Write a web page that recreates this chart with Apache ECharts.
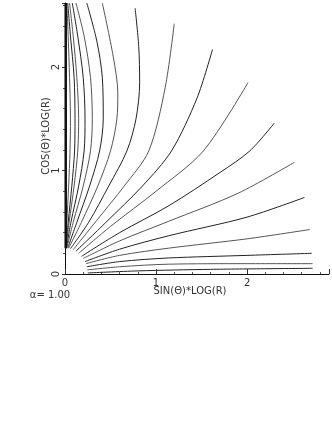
<!DOCTYPE html>
<html>
<head>
<meta charset="utf-8">
<script src="https://cdn.jsdelivr.net/npm/echarts@6/dist/echarts.min.js"></script>
<style>
  html, body { margin: 0; padding: 0; background: #fff; }
  #chart { width: 332px; height: 430px; }
</style>
</head>
<body>
<div id="chart"></div>
<script>
// streamlines as [sin*log, cos*log] points
var c01 = [[0.25, 0.01], [0.8, 0.03], [1.6, 0.045], [2.72, 0.055]];
var c02 = [[0.245, 0.04], [0.6, 0.07], [1.14, 0.095], [2.0, 0.1], [2.72, 0.10]];
var c03 = [[0.24, 0.07], [0.6, 0.12], [1.14, 0.155], [2.0, 0.18], [2.71, 0.20]];
var c04 = [[0.23, 0.10], [0.6, 0.18], [1.14, 0.25], [2.0, 0.34], [2.69, 0.43]];
var c05 = [[0.22, 0.12], [0.6, 0.24], [1.14, 0.37], [2.0, 0.55], [2.63, 0.74]];
var c06 = [[0.20, 0.15], [0.6, 0.32], [1.14, 0.51], [1.9, 0.78], [2.52, 1.08]];
var c07 = [[0.18, 0.17], [0.6, 0.40], [1.14, 0.66], [1.7, 0.98], [2.03, 1.19], [2.30, 1.46]];
var c08 = [[0.15, 0.20], [0.5, 0.46], [1.0, 0.80], [1.52, 1.19], [2.01, 1.85]];
var c09 = [[0.12, 0.22], [0.45, 0.50], [0.85, 0.85], [1.17, 1.19], [1.45, 1.7], [1.62, 2.17]];
var c10 = [[0.09, 0.235], [0.35, 0.52], [0.65, 0.85], [0.92, 1.19], [1.1, 1.8], [1.2, 2.42]];
var c11 = [[0.06, 0.245], [0.26, 0.5], [0.48, 0.85], [0.68, 1.19], [0.78, 1.5], [0.82, 1.85], [0.81, 2.2], [0.77, 2.57]];
var c12 = [[0.04, 0.25], [0.18, 0.5], [0.36, 0.85], [0.50, 1.19], [0.57, 1.5], [0.58, 1.75], [0.53, 2.1], [0.41, 2.62]];
var c13 = [[0.03, 0.25], [0.13, 0.5], [0.27, 0.85], [0.38, 1.19], [0.42, 1.5], [0.41, 1.9], [0.35, 2.25], [0.24, 2.62]];
var c14 = [[0.02, 0.25], [0.09, 0.5], [0.2, 0.85], [0.28, 1.19], [0.3, 1.5], [0.28, 1.9], [0.21, 2.3], [0.12, 2.62]];
var c15 = [[0.015, 0.25], [0.065, 0.5], [0.15, 0.85], [0.21, 1.19], [0.22, 1.5], [0.2, 1.9], [0.14, 2.3], [0.08, 2.62]];
var c16 = [[0.01, 0.25], [0.045, 0.5], [0.1, 0.85], [0.14, 1.19], [0.15, 1.5], [0.13, 1.9], [0.09, 2.3], [0.05, 2.62]];
var c17 = [[0.008, 0.25], [0.035, 0.5], [0.075, 0.85], [0.105, 1.19], [0.11, 1.5], [0.1, 1.9], [0.06, 2.3], [0.03, 2.62]];
var c18 = [[0.005, 0.25], [0.02, 0.5], [0.04, 0.85], [0.055, 1.19], [0.06, 1.5], [0.05, 1.9], [0.035, 2.3], [0.02, 2.62]];
var bundle = [[0.008, 0.25], [0.008, 2.62]];

var curves = [c01, c02, c03, c04, c05, c06, c07, c08, c09, c10,
              c11, c12, c13, c14, c15, c16, c17, c18];

var xTicks = [0, 1, 2];
var yTicks = [0, 1, 2];

var myChart = echarts.init(document.getElementById('chart'));

var series = curves.map(function (pts, i) {
    return {
        type: 'line',
        data: pts,
        smooth: 0.3,
        showSymbol: false,
        silent: true,
        lineStyle: { color: i % 2 ? '#555' : '#222', width: 1 }
    };
});
series.push({
    type: 'line',
    data: bundle,
    showSymbol: false,
    silent: true,
    lineStyle: { color: '#111', width: 2.5 }
});

var font = 'DejaVu Sans';
var option = {
    animation: false,
    grid: { left: 65, right: 0, top: 0, bottom: 156 },
    xAxis: {
        type: 'value',
        min: 0,
        max: 2.9,
        interval: 1,
        splitLine: { show: false },
        axisLine: { lineStyle: { color: '#111', width: 1 } },
        axisTick: { inside: true, length: 5, lineStyle: { color: '#333' } },
        minorTick: { show: true, splitNumber: 5, length: 2, lineStyle: { color: '#555' } },
        axisLabel: {
            color: '#333', fontFamily: font, fontSize: 10, margin: 4,
            formatter: function (v) { return xTicks.indexOf(v) >= 0 ? String(v) : ''; }
        }
    },
    yAxis: {
        type: 'value',
        min: 0,
        max: 2.62,
        interval: 1,
        splitLine: { show: false },
        axisLine: { lineStyle: { color: '#111', width: 1 } },
        axisTick: { inside: false, length: 3, lineStyle: { color: '#333' } },
        minorTick: { show: true, splitNumber: 5, length: 2, lineStyle: { color: '#555' } },
        axisLabel: {
            color: '#333', fontFamily: font, fontSize: 10, margin: 4, rotate: 90,
            formatter: function (v) { return yTicks.indexOf(v) >= 0 ? String(v) : ''; }
        }
    },
    graphic: [
        {
            type: 'text', x: 190, y: 291,
            style: { text: 'SIN(Θ)*LOG(R)', font: '10px ' + font, fill: '#333', align: 'center', verticalAlign: 'middle' }
        },
        {
            type: 'text', x: 46, y: 136, rotation: Math.PI / 2,
            style: { text: 'COS(Θ)*LOG(R)', font: '10px ' + font, fill: '#333', align: 'center', verticalAlign: 'middle' }
        },
        {
            type: 'text', x: 50, y: 295,
            style: { text: 'α= 1.00', font: '10px ' + font, fill: '#333', align: 'center', verticalAlign: 'middle' }
        }
    ],
    series: series
};
myChart.setOption(option);
</script>
</body>
</html>
